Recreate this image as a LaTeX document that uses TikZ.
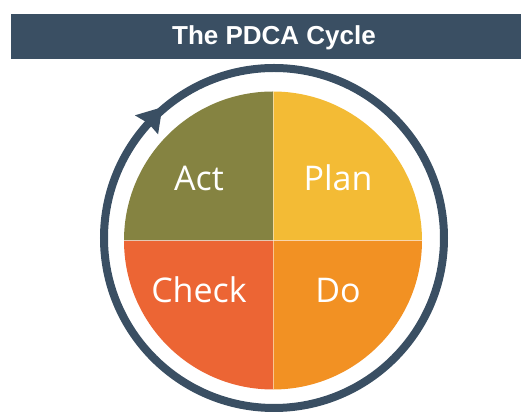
\documentclass[tikz,border=0pt]{standalone}
\usepackage{fontspec}
\setmainfont{Open Sans}
\newfontfamily\titlefont{Liberation Sans}
\usetikzlibrary{positioning}
\definecolor{slate}{RGB}{58,79,99}
\definecolor{actcol}{RGB}{133,131,65}
\definecolor{plancol}{RGB}{243,187,53}
\definecolor{checkcol}{RGB}{236,101,52}
\definecolor{docol}{RGB}{242,145,35}
\tikzstyle{quarter}=[draw=white, draw opacity=0.5, line width=0.3pt]
\tikzstyle{phase}=[text=white, font=\fontsize{17}{20}\selectfont, anchor=base, inner sep=0pt]
\tikzstyle{ringline}=[draw=slate, line width=4pt]

\begin{document}
\begin{tikzpicture}[x=0.5pt, y=0.5pt]
    \useasboundingbox (0, 0) rectangle (521, 412);
    % title bar
    \fill[slate] (11, 353) rectangle (521, 398);
    \node (title) [text=white, font=\titlefont\bfseries\fontsize{13}{15}\selectfont, anchor=base] at (274, 367) {The PDCA Cycle};

    \coordinate (pie) at (273, 171.5);
    \coordinate (ring) at (274, 174);

    % the four quarters
    \fill[fill=plancol] (pie) -- ++(0, 149) arc (90:0:149) -- cycle;
    \fill[fill=docol] (pie) -- ++(149, 0) arc (0:-90:149) -- cycle;
    \fill[fill=checkcol] (pie) -- ++(0, -149) arc (270:180:149) -- cycle;
    \fill[fill=actcol] (pie) -- ++(-149, 0) arc (180:90:149) -- cycle;
    \draw[quarter] (pie) ++(0, 149) -- ++(0, -298);
    \draw[quarter] (pie) ++(-149, 0) -- ++(298, 0);

    \node (act)[phase] at (199, 221) {Act};
    \node (plan)[phase] at (338, 221) {Plan};
    \node (check)[phase] at (199, 109) {Check};
    \node (do)[phase] at (338, 109) {Do};

    % cycle ring with arrow head
    \draw[ringline] (ring) circle (170);
    \fill[slate, shift={(ring)}] (130.5:172) -- (138.6:185.5) -- (137.6:170) -- (138.2:155.5) -- cycle;

\end{tikzpicture}
\end{document}
